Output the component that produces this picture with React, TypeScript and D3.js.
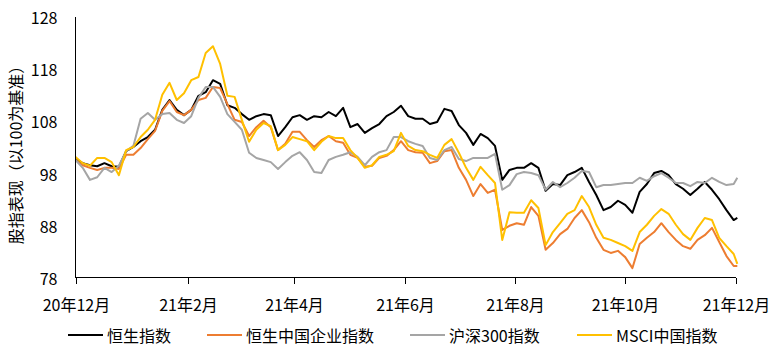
import React from "react";
import * as d3 from "d3";

const dates: string[] = [
  "2020-12-01","2020-12-05","2020-12-09","2020-12-13","2020-12-17","2020-12-21","2020-12-25","2020-12-29",
  "2021-01-02","2021-01-06","2021-01-10","2021-01-14","2021-01-18","2021-01-22","2021-01-26","2021-01-30",
  "2021-02-03","2021-02-07","2021-02-11","2021-02-15","2021-02-19","2021-02-23","2021-02-27",
  "2021-03-03","2021-03-07","2021-03-11","2021-03-15","2021-03-19","2021-03-23","2021-03-27","2021-03-31",
  "2021-04-04","2021-04-08","2021-04-12","2021-04-16","2021-04-20","2021-04-24","2021-04-28",
  "2021-05-02","2021-05-06","2021-05-10","2021-05-14","2021-05-18","2021-05-22","2021-05-26","2021-05-30",
  "2021-06-03","2021-06-07","2021-06-11","2021-06-15","2021-06-19","2021-06-23","2021-06-27",
  "2021-07-01","2021-07-05","2021-07-09","2021-07-13","2021-07-17","2021-07-21","2021-07-25","2021-07-29",
  "2021-08-02","2021-08-06","2021-08-10","2021-08-14","2021-08-18","2021-08-22","2021-08-26","2021-08-30",
  "2021-09-03","2021-09-07","2021-09-11","2021-09-15","2021-09-19","2021-09-23","2021-09-27",
  "2021-10-01","2021-10-05","2021-10-09","2021-10-13","2021-10-17","2021-10-21","2021-10-25","2021-10-29",
  "2021-11-02","2021-11-06","2021-11-10","2021-11-14","2021-11-18","2021-11-22","2021-11-26","2021-11-30",
  "2021-12-02",
];

const hsi: number[] = [
  100.8,100.0,99.6,99.4,100.0,99.4,99.3,102.3,103.1,104.2,105.0,106.4,110.2,112.1,110.2,109.2,
  110.2,112.9,113.6,115.9,115.2,111.1,110.6,109.4,108.3,109.0,109.4,109.2,105.2,106.9,108.8,
  109.2,108.3,109.0,108.8,109.8,109.0,110.6,106.9,107.5,105.8,106.7,107.5,109.0,109.8,111.0,
  109.0,108.5,108.5,107.5,107.9,110.4,110.0,107.3,105.8,103.5,105.6,104.8,103.3,96.8,98.7,
  99.1,99.1,100.0,99.1,94.7,96.0,95.8,97.7,98.3,99.1,96.4,93.9,91.0,91.6,92.8,
  92.0,90.5,94.5,96.0,98.1,98.5,97.7,96.0,95.1,93.9,95.1,96.4,94.9,93.1,91.0,89.1,89.5,
];

const hscei: number[] = [
  100.6,99.6,99.1,98.7,99.1,99.1,98.9,101.6,101.6,102.9,104.6,106.2,110.0,111.9,109.8,109.2,
  110.2,112.1,112.5,114.6,114.4,111.3,108.3,107.9,105.2,106.9,108.1,106.9,102.5,103.7,106.0,
  106.0,104.4,103.1,104.4,105.2,104.2,103.9,101.6,101.0,99.3,99.5,101.0,101.4,102.5,104.2,
  102.5,102.1,102.0,100.0,100.4,102.3,102.5,99.1,96.8,93.7,96.0,94.3,94.9,87.2,88.0,
  88.5,88.2,91.6,89.9,83.4,84.7,86.4,87.4,89.5,91.0,88.7,85.7,83.4,82.8,83.2,
  82.0,79.9,84.5,85.7,86.8,88.5,86.8,85.3,84.1,83.6,85.3,86.2,87.6,84.9,82.2,80.3,80.3,
];

const csi300: number[] = [
  100.6,99.1,96.8,97.3,99.1,98.3,99.5,102.3,103.3,108.5,109.6,108.3,109.4,109.6,108.3,107.7,
  109.0,112.5,114.6,114.6,112.7,109.4,107.9,106.4,102.0,101.0,100.6,100.2,98.9,100.2,101.4,
  102.1,100.6,98.3,98.1,100.6,101.2,101.6,102.1,101.2,99.6,101.2,102.1,102.5,105.0,105.0,
  104.2,103.7,103.3,101.0,100.6,102.5,103.1,100.8,100.4,101.0,101.0,101.0,101.8,94.9,95.8,
  97.9,98.3,98.1,97.7,94.9,96.4,95.4,96.2,97.2,98.5,98.3,95.4,95.8,95.8,96.0,
  96.2,96.2,97.2,96.6,97.5,98.1,97.2,96.2,96.2,95.6,96.4,96.2,97.2,96.4,95.8,96.0,97.2,
];

const msci: number[] = [
  101.2,100.0,99.5,101.0,101.0,100.2,97.7,102.5,103.1,105.0,106.4,108.3,113.1,115.4,112.1,113.4,
  115.9,116.5,121.1,122.4,119.0,112.9,112.7,108.3,104.1,106.4,107.7,107.1,102.5,103.5,105.0,
  104.6,104.2,102.5,104.1,105.2,104.8,104.8,102.5,101.0,99.1,99.6,101.2,101.6,102.3,105.8,
  103.3,102.5,102.3,101.6,101.0,103.5,104.6,102.0,99.1,96.8,99.3,97.7,96.2,85.3,90.6,
  90.5,90.5,92.9,91.4,84.3,86.8,88.5,90.3,91.0,93.7,91.6,88.2,85.7,85.3,84.7,
  84.1,83.2,86.8,88.2,89.9,91.2,90.3,88.2,86.4,85.3,87.6,89.5,89.1,85.7,84.1,82.6,80.7,
];

const seriesNames: string[] = ["恒生指数", "恒生中国企业指数", "沪深300指数", "MSCI中国指数"];
const seriesColors: string[] = ["#000000", "#ED7D31", "#A5A5A5", "#FFC000"];
const seriesValues: number[][] = [hsi, hscei, csi300, msci];

const xTickDates: string[] = ["2020-12-01", "2021-02-01", "2021-04-01", "2021-06-01", "2021-08-01", "2021-10-01", "2021-12-01"];
const xTickLabels: string[] = ["20年12月", "21年2月", "21年4月", "21年6月", "21年8月", "21年10月", "21年12月"];
const yTicks: number[] = [78, 88, 98, 108, 118, 128];
const yTitle = "股指表现（以100为基准）";

const legendLineX: number[] = [68, 207, 410, 577];

const FONT = "'Noto Sans CJK SC', 'Noto Sans', sans-serif";

export default function App() {
  const W = 775, H = 351;
  const parse = d3.utcParse("%Y-%m-%d");
  const xs = dates.map((d) => parse(d) as Date);
  const x = d3
    .scaleUtc()
    .domain([parse("2020-12-01") as Date, parse("2021-12-01") as Date])
    .range([75.5, 735.5]);
  const y = d3.scaleLinear().domain([78, 128]).range([278, 17]);

  const line = d3
    .line<number>()
    .x((_, i) => x(xs[i]))
    .y((v) => y(v));

  return (
    <svg width={W} height={H} style={{ position: "absolute", left: 0, top: 0, background: "#fff" }} fontFamily={FONT}>
      <rect x={0} y={0} width={W} height={H} fill="#fff" />
      {/* y axis labels */}
      {yTicks.map((t) => (
        <text key={t} x={57.5} y={y(t)} textAnchor="end" dominantBaseline="central" fontSize={16} fill="#000">
          {t}
        </text>
      ))}
      <text
        transform={`translate(15,${151}) rotate(-90)`}
        textAnchor="middle"
        dominantBaseline="central"
        fontSize={16}
        fill="#000"
      >
        {yTitle}
      </text>
      {/* series */}
      {seriesValues.map((vals, si) => (
        <path key={si} d={line(vals) || ""} fill="none" stroke={seriesColors[si]} strokeWidth={2} strokeLinejoin="round" />
      ))}
      {/* axes */}
      <line x1={75.5} x2={75.5} y1={17} y2={278} stroke="#000" strokeWidth={1} />
      <line x1={75.5} x2={736} y1={277.5} y2={277.5} stroke="#000" strokeWidth={1} />
      {xTickDates.map((d, i) => {
        const px = Math.round(x(parse(d) as Date)) + 0.5;
        return (
          <g key={d}>
            <line x1={px} x2={px} y1={278} y2={284} stroke="#000" strokeWidth={1} />
            <text x={px} y={304} textAnchor="middle" dominantBaseline="central" fontSize={16} fill="#000">
              {xTickLabels[i]}
            </text>
          </g>
        );
      })}
      {/* legend */}
      {seriesNames.map((name, i) => (
        <g key={name}>
          <line x1={legendLineX[i]} x2={legendLineX[i] + 35} y1={335} y2={335} stroke={seriesColors[i]} strokeWidth={2} />
          <text x={legendLineX[i] + 39} y={335} dominantBaseline="central" fontSize={16} fill="#000">
            {name}
          </text>
        </g>
      ))}
    </svg>
  );
}
